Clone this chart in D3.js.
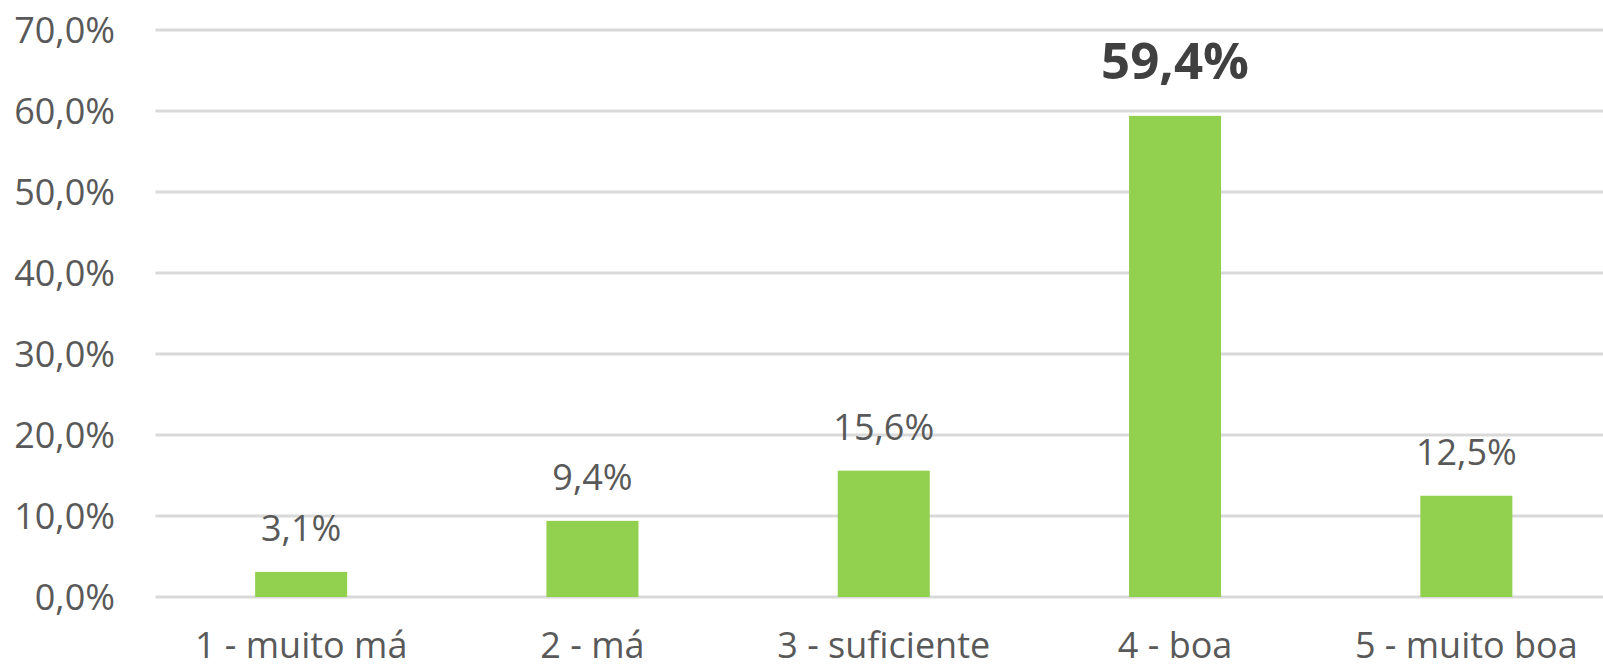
<!DOCTYPE html>
<html>
<head>
<meta charset="utf-8">
<script src="https://cdn.jsdelivr.net/npm/d3@7"></script>
<style>
  body { margin: 0; background: #fff; }
  svg { display: block; }
  text { font-family: "Open Sans", "Noto Sans", sans-serif; }
</style>
</head>
<body>
<svg id="chart" width="1603" height="668"></svg>
<script>
// avaliação - percentagens
const categories = ["1 - muito má", "2 - má", "3 - suficiente", "4 - boa", "5 - muito boa"];
const values = [3.1, 9.4, 15.6, 59.4, 12.5];
const yTicks = [0, 10, 20, 30, 40, 50, 60, 70];

const data = categories.map((c, i) => ({cat: c, val: values[i]}));
const maxVal = d3.max(values);

const svg = d3.select("#chart");
const plotL = 155.5, plotR = 1612, plotT = 30, plotB = 597;

const x = d3.scaleBand()
    .domain(categories)
    .range([plotL, plotR])
    .paddingInner(0.684)
    .paddingOuter(0.342);

const y = d3.scaleLinear().domain([0, 70]).range([plotB, plotT]);

const pt = d3.formatLocale({decimal: ",", thousands: ".", grouping: [3], currency: ["", "€"]});
const fmtPct = v => pt.format(".1f")(v) + "%";

// grid
svg.append("g")
    .selectAll("line")
    .data(yTicks)
    .enter()
    .append("line")
    .attr("x1", plotL)
    .attr("x2", 1603)
    .attr("y1", d => y(d))
    .attr("y2", d => y(d))
    .attr("stroke", "#d9d9d9")
    .attr("stroke-width", 3)

// y labels
svg.append("g")
    .selectAll("text")
    .data(yTicks)
    .enter()
    .append("text")
    .attr("x", 115)
    .attr("y", d => y(d) + 12.5)
    .attr("text-anchor", "end")
    .attr("font-size", 36)
    .attr("fill", "#595959")
    .text(d => fmtPct(d))

// bars
svg.append("g")
    .selectAll("rect")
    .data(data)
    .enter()
    .append("rect")
    .attr("x", d => x(d.cat))
    .attr("width", x.bandwidth())
    .attr("y", d => y(d.val))
    .attr("height", d => y(0) - y(d.val))
    .attr("fill", "#92d050")

// value labels
svg.append("g")
    .selectAll("text")
    .data(data)
    .enter()
    .append("text")
    .attr("x", d => x(d.cat) + x.bandwidth() / 2)
    .attr("y", d => y(d.val) - (d.val === maxVal ? 37 : 31))
    .attr("text-anchor", "middle")
    .attr("font-size", d => d.val === maxVal ? 51 : 36)
    .attr("font-weight", d => d.val === maxVal ? "bold" : "normal")
    .attr("fill", d => d.val === maxVal ? "#404040" : "#595959")
    .text(d => fmtPct(d.val))

// category labels
svg.append("g")
    .selectAll("text")
    .data(categories)
    .enter()
    .append("text")
    .attr("x", d => x(d) + x.bandwidth() / 2)
    .attr("y", 658)
    .attr("text-anchor", "middle")
    .attr("font-size", 36)
    .attr("fill", "#595959")
    .text(d => d)
</script>
</body>
</html>
